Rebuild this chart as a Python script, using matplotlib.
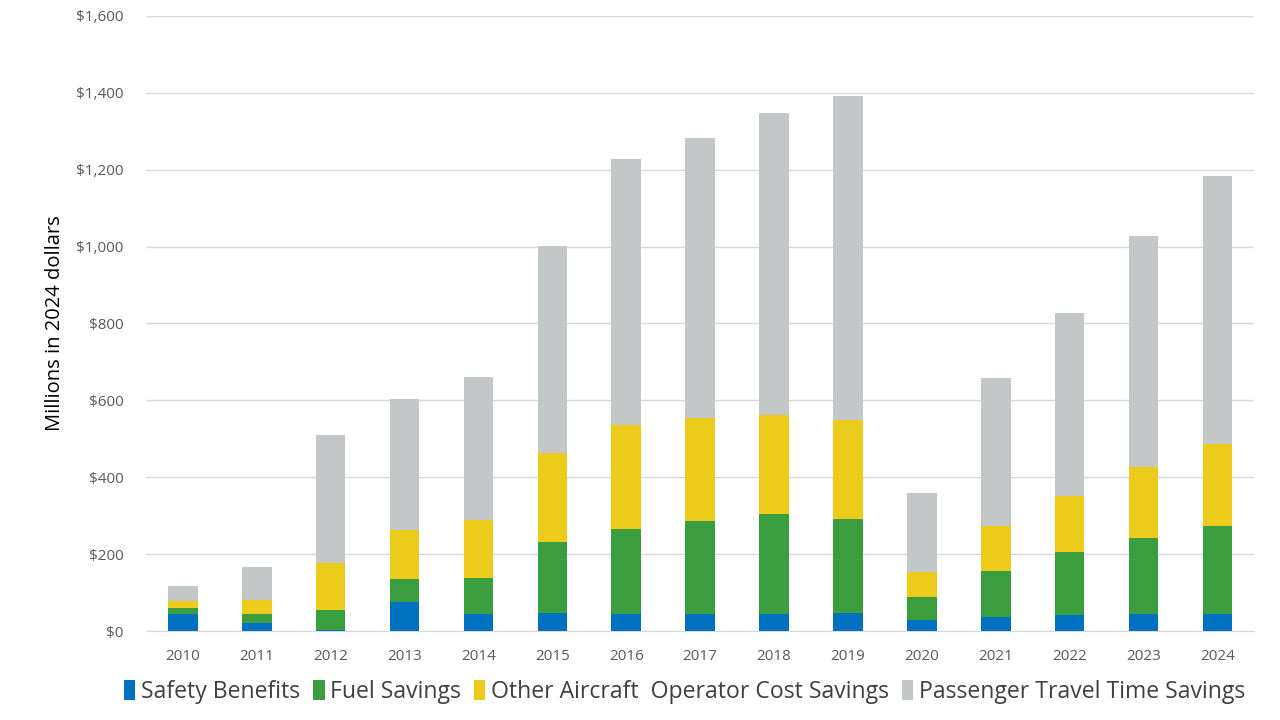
import numpy as np
import matplotlib.pyplot as plt
from matplotlib.ticker import FuncFormatter

years = [str(y) for y in range(2010, 2025)]

# cumulative tops, converted to segment values below
safety = [44, 21, 3, 75, 44, 48, 45, 45, 45, 48, 29, 36, 42, 45, 45]
fuel_top = [60, 44, 55, 135, 138, 232, 265, 286, 304, 291, 88, 156, 205, 242, 273]
other_top = [79, 81, 177, 263, 289, 464, 537, 555, 562, 549, 153, 274, 351, 427, 487]
total = [117, 167, 510, 603, 661, 1002, 1228, 1283, 1348, 1392, 359, 658, 827, 1028, 1184]

fuel = list(np.array(fuel_top) - np.array(safety))
other = list(np.array(other_top) - np.array(fuel_top))
passenger = list(np.array(total) - np.array(other_top))

labels = ["Safety Benefits", "Fuel Savings", "Other Aircraft  Operator Cost Savings",
          "Passenger Travel Time Savings"]
colors = ["#0070C0", "#3A9E3E", "#EDCB1A", "#C4C7C8"]

plt.rcParams['font.family'] = ['Open Sans', 'DejaVu Sans']

fig = plt.figure(figsize=(12.8, 7.2), dpi=100)
ax = fig.add_axes([0.114, 0.1236, 0.866, 0.8542])

x = np.arange(len(years))
bottom = np.zeros(len(years))
for vals, lab, col in zip([safety, fuel, other, passenger], labels, colors):
    ax.bar(x, vals, width=0.4, bottom=bottom, color=col, label=lab, zorder=3)
    bottom += np.array(vals)

ax.set_xlim(-0.5, len(years) - 0.5)
ax.set_ylim(0, 1600)
ax.set_yticks(np.arange(0, 1601, 200))
ax.yaxis.set_major_formatter(FuncFormatter(lambda v, p: "${:,.0f}".format(v)))
ax.set_xticks(x)
ax.set_xticklabels(years)
ax.grid(axis='y', color='#D9D9D9', linewidth=1, zorder=0)
for s in ['top', 'right', 'left']:
    ax.spines[s].set_visible(False)
ax.spines['bottom'].set_color('#D9D9D9')
ax.tick_params(axis='both', length=0, labelsize=11, labelcolor='#595959')
ax.tick_params(axis='x', pad=13)
ax.tick_params(axis='y', pad=16)
ax.set_ylabel("Millions in 2024 dollars", fontsize=14.5, color='black', labelpad=8)

ax.legend(loc='lower center', bbox_to_anchor=(0.486, -0.152), ncol=4, frameon=False,
          fontsize=16.6, handlelength=0.5, handleheight=1.0, handletextpad=0.25,
          columnspacing=0.55, labelcolor='#404040')

fig.savefig("out.png", dpi=100)
